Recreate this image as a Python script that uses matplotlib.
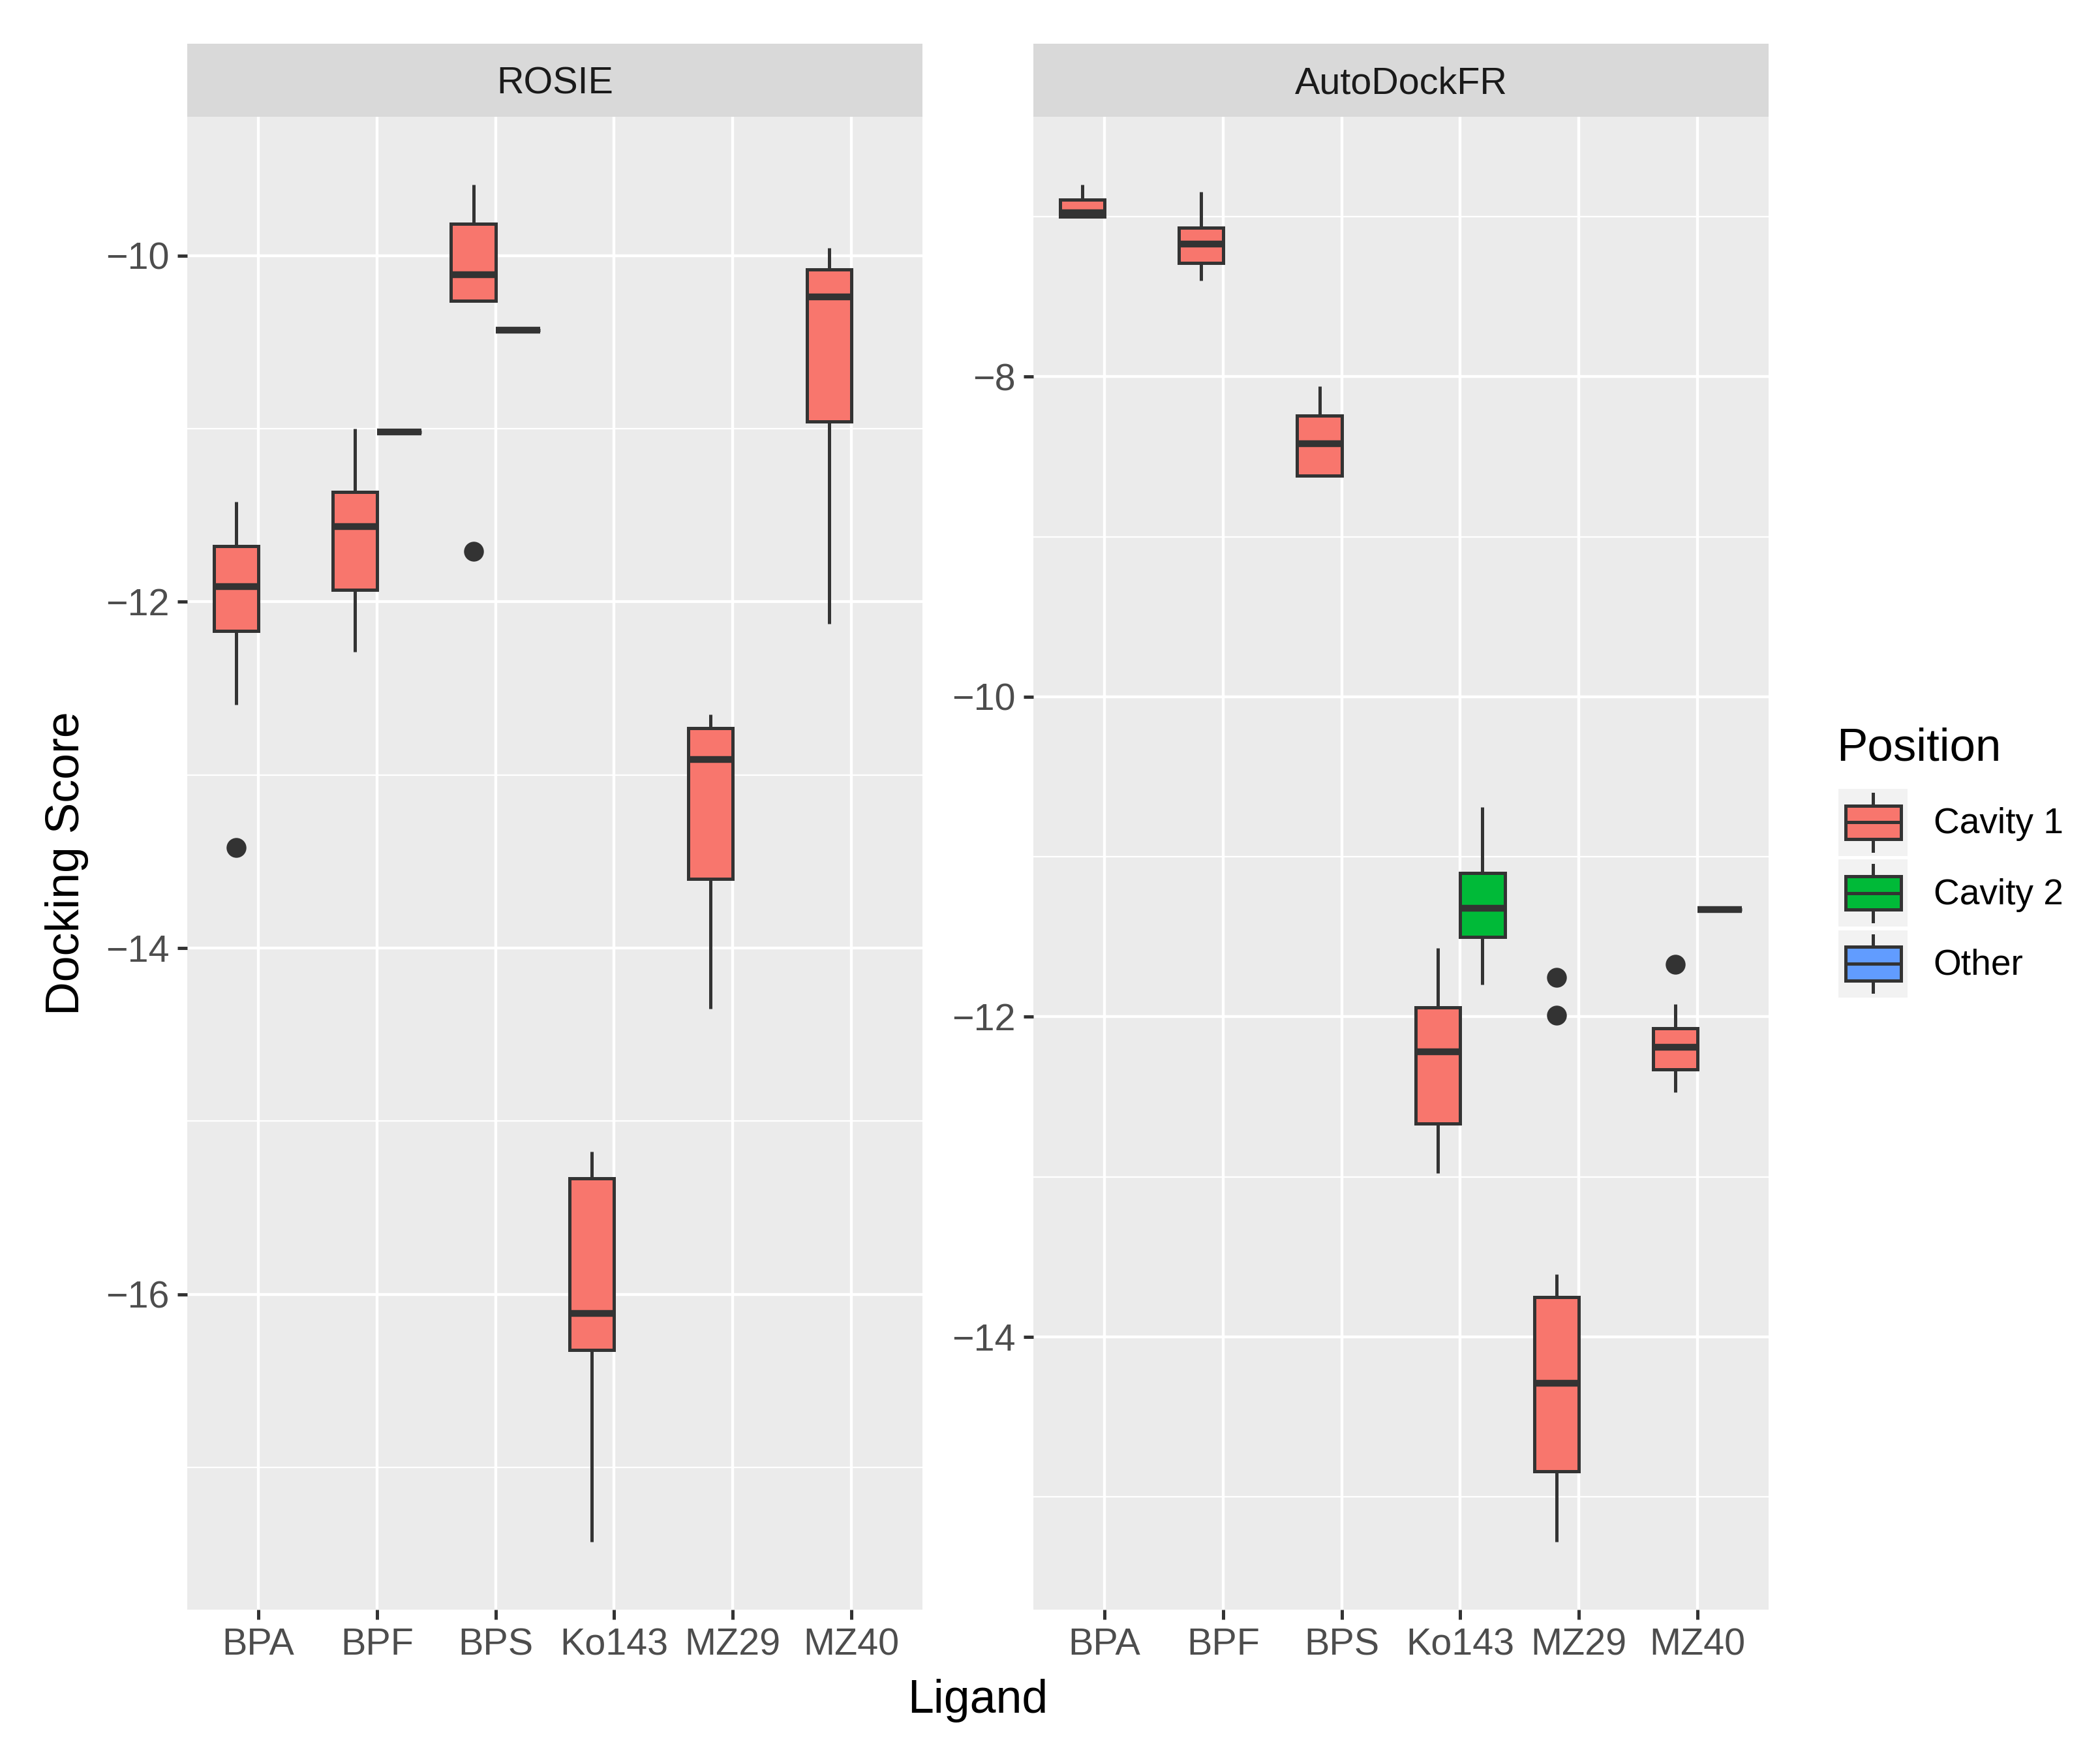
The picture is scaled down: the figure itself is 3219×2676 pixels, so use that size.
import numpy as np
import matplotlib
matplotlib.use('Agg')
import matplotlib.pyplot as plt
from matplotlib.patches import Rectangle, Patch
from matplotlib.lines import Line2D
from matplotlib.legend_handler import HandlerBase
from matplotlib.ticker import MultipleLocator

plt.rcParams['font.family'] = ['Liberation Sans', 'DejaVu Sans']

# ---------------- data ----------------
ligands = ['BPA', 'BPF', 'BPS', 'Ko143', 'MZ29', 'MZ40']
positions = ['Cavity 1', 'Cavity 2', 'Other']
pos_colors = ['#F8766D', '#00BA38', '#619CFF']
panels = ['ROSIE', 'AutoDockFR']

# ROSIE
rosie_ligand = ['BPA', 'BPF', 'BPF', 'BPS', 'BPS', 'Ko143', 'MZ29', 'MZ40']
rosie_position = ['Cavity 1', 'Cavity 1', 'Other', 'Cavity 1', 'Other', 'Cavity 1', 'Cavity 1', 'Cavity 1']
rosie_whislo = [-12.595, -12.29, -11.02, -10.26, -10.43, -17.43, -14.35, -12.126]
rosie_q1 = [-12.17, -11.93, -11.02, -10.26, -10.43, -16.32, -13.60, -10.96]
rosie_med = [-11.91, -11.565, -11.02, -10.11, -10.43, -16.11, -12.91, -10.24]
rosie_q3 = [-11.68, -11.365, -11.02, -9.816, -10.43, -15.33, -12.73, -10.08]
rosie_whishi = [-11.42, -11.0, -11.02, -9.59, -10.43, -15.175, -12.65, -9.955]
rosie_fliers = [[-13.42], [], [], [-11.71], [], [], [], []]

# AutoDockFR
adfr_ligand = ['BPA', 'BPF', 'BPS', 'Ko143', 'Ko143', 'MZ29', 'MZ40', 'MZ40']
adfr_position = ['Cavity 1', 'Cavity 1', 'Cavity 1', 'Cavity 1', 'Cavity 2', 'Cavity 1', 'Cavity 1', 'Other']
adfr_whislo = [-7.00, -7.40, -8.62, -12.975, -11.80, -15.28, -12.47, -11.33]
adfr_q1 = [-7.00, -7.29, -8.62, -12.665, -11.50, -14.84, -12.33, -11.33]
adfr_med = [-6.975, -7.17, -8.42, -12.22, -11.32, -14.29, -12.19, -11.33]
adfr_q3 = [-6.894, -7.07, -8.245, -11.94, -11.10, -13.75, -12.07, -11.33]
adfr_whishi = [-6.80, -6.845, -8.06, -11.57, -10.69, -13.61, -11.92, -11.33]
adfr_fliers = [[], [], [], [], [], [-11.755, -11.99], [-11.67], []]

# ---------------- style ----------------
EDGE = '#333333'
LW = 1.2
W = 3220 / 300
H = 2676 / 300

fig = plt.figure(figsize=(W, H), dpi=300)

panel_bottom = 1 - 2467 / 2676
panel_h = (2467 - 179) / 2676
strip_h = (179 - 67) / 2676
panel_w = 1127 / 3220
lefts = [287 / 3220, 1584 / 3220]


def draw_panel(ax, lig, pos, lo, q1, med, q3, hi, fl):
    stats, xs, cols = [], [], []
    count = {}
    for i in range(len(lig)):
        k = count.get(lig[i], 0)
        count[lig[i]] = k + 1
        xs.append(ligands.index(lig[i]) - 0.1875 + 0.375 * k)
        stats.append(dict(whislo=lo[i], q1=q1[i], med=med[i], q3=q3[i],
                          whishi=hi[i], fliers=fl[i]))
        cols.append(pos_colors[positions.index(pos[i])])
    bp = ax.bxp(stats, positions=xs, widths=0.375, patch_artist=True,
                showcaps=False, manage_ticks=False,
                boxprops=dict(edgecolor=EDGE, linewidth=LW),
                whiskerprops=dict(color=EDGE, linewidth=LW, solid_capstyle='butt'),
                medianprops=dict(color=EDGE, linewidth=2.5, solid_capstyle='butt'),
                flierprops=dict(marker='o', markerfacecolor=EDGE, markeredgecolor=EDGE,
                                markersize=6.3, linestyle='none'))
    for b, c in zip(bp['boxes'], cols):
        b.set_facecolor(c)

    allv = lo + hi + [v for f in fl for v in f]
    ymin, ymax = min(allv), max(allv)
    pad = 0.05 * (ymax - ymin)
    ax.set_ylim(ymin - pad, ymax + pad)
    ax.set_xlim(-0.6, len(ligands) - 0.4)

    ax.set_facecolor('#EBEBEB')
    for s in ax.spines.values():
        s.set_visible(False)
    ax.set_axisbelow(True)
    ax.yaxis.set_major_locator(MultipleLocator(2))
    ax.yaxis.set_minor_locator(MultipleLocator(1))
    ax.set_xticks(range(len(ligands)))
    ax.set_xticklabels(ligands)
    ax.grid(which='major', color='white', linewidth=1.05)
    ax.grid(which='minor', axis='y', color='white', linewidth=0.55)
    ax.tick_params(which='major', length=3.6, width=1.2, color=EDGE,
                   labelcolor='#4D4D4D', labelsize=13.8, pad=3.0)
    ax.tick_params(which='minor', length=0)


data = [
    (rosie_ligand, rosie_position, rosie_whislo, rosie_q1, rosie_med, rosie_q3, rosie_whishi, rosie_fliers),
    (adfr_ligand, adfr_position, adfr_whislo, adfr_q1, adfr_med, adfr_q3, adfr_whishi, adfr_fliers),
]

for j, name in enumerate(panels):
    ax = fig.add_axes([lefts[j], panel_bottom, panel_w, panel_h])
    draw_panel(ax, *data[j])
    sax = fig.add_axes([lefts[j], panel_bottom + panel_h, panel_w, strip_h])
    sax.set_facecolor('#D9D9D9')
    sax.set_xticks([])
    sax.set_yticks([])
    for s in sax.spines.values():
        s.set_visible(False)
    sax.text(0.5, 0.32, name, ha='center', va='baseline', fontsize=13.8,
             color='#1A1A1A', transform=sax.transAxes)

fig.text((287 + 2711) / 2 / 3220, 1 - 2625 / 2676, 'Ligand', ha='center',
         va='baseline', fontsize=17.2, color='black')
fig.text(103 / 3220, 1 - 1323 / 2676, 'Docking Score', ha='center',
         va='center', rotation=90, fontsize=17.2, color='black')


# legend keys drawn like ggplot boxplot keys
class BoxKey(HandlerBase):
    def create_artists(self, legend, orig_handle, xdescent, ydescent,
                       width, height, fontsize, trans):
        x0, y0 = -xdescent, -ydescent
        h = height
        bg = Rectangle((x0, y0), width, h, facecolor='#F2F2F2',
                       edgecolor='none', transform=trans)
        cx = x0 + width / 2
        wl = Line2D([cx, cx], [y0 + 0.08 * h, y0 + 0.92 * h],
                    color=EDGE, lw=LW, transform=trans)
        box = Rectangle((x0 + 0.1 * width, y0 + 0.25 * h), 0.8 * width,
                        0.5 * h, facecolor=orig_handle.get_facecolor(),
                        edgecolor=EDGE, lw=LW, transform=trans)
        md = Line2D([x0 + 0.1 * width, x0 + 0.9 * width],
                    [y0 + 0.5 * h] * 2, color=EDGE, lw=LW, transform=trans)
        return [bg, wl, box, md]


fig.text(2815 / 3220, 1 - 1166 / 2676, 'Position', ha='left', va='baseline',
         fontsize=17.0, color='black')
handles = [Patch(facecolor=c, label=p) for p, c in zip(positions, pos_colors)]
fig.legend(handles=handles, loc='upper left',
           bbox_to_anchor=(2818 / 3220, 1 - 1209 / 2676),
           frameon=False, fontsize=13.2,
           handler_map={Patch: BoxKey()}, handlelength=1.93, handleheight=2.5,
           labelspacing=0.1, handletextpad=0.72, borderpad=0,
           borderaxespad=0)

fig.savefig('out.png', dpi=300)
